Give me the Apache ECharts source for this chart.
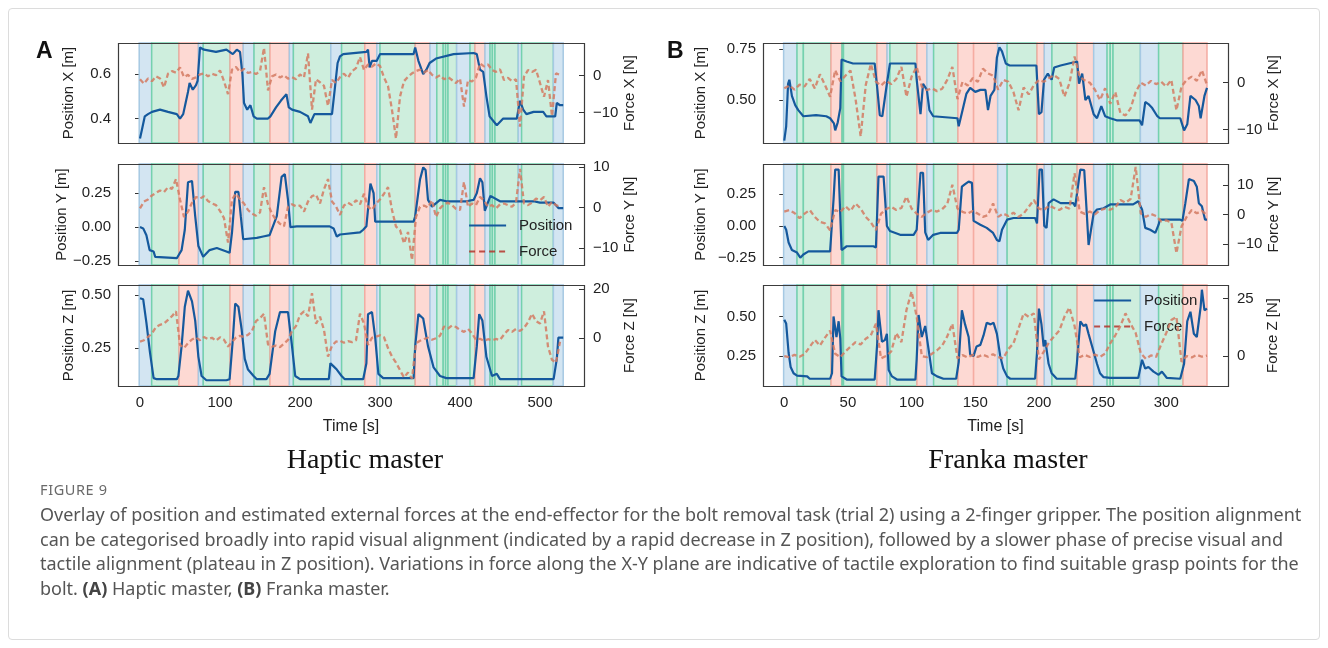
<!DOCTYPE html>
<html>
<head>
<meta charset="utf-8">
<script src="https://cdn.jsdelivr.net/npm/echarts@6.0.0/dist/echarts.min.js"></script>
<style>
body { margin: 0; background: #fff; }
#frame { position: absolute; left: 8px; top: 8px; width: 1310px; height: 630px; border: 1px solid #dcdcdc; border-radius: 4px; }
#chart { position: absolute; left: 0; top: 0; width: 1328px; height: 480px; }
#cap { position: absolute; left: 40px; top: 478px; width: 1285px; font-family: "Noto Sans", "Open Sans", sans-serif; color: #555; }
#cap .fig { font-size: 14.5px; letter-spacing: 0.6px; color: #6a6a6a; line-height: 22px; }
#cap .txt { font-size: 18px; line-height: 24.5px; margin-top: 2px; white-space: nowrap; }
#cap b { color: #444; }
</style>
</head>
<body>
<div id="frame"></div>
<div id="chart"></div>
<div id="cap">
  <div class="fig">FIGURE 9</div>
  <div class="txt">Overlay of position and estimated external forces at the end-effector for the bolt removal task (trial 2) using a 2-finger gripper. The position alignment<br>can be categorised broadly into rapid visual alignment (indicated by a rapid decrease in Z position), followed by a slower phase of precise visual and<br>tactile alignment (plateau in Z position). Variations in force along the X-Y plane are indicative of tactile exploration to find suitable grasp points for the<br>bolt. <b>(A)</b> Haptic master, <b>(B)</b> Franka master.</div>
</div>
<script>
// ---- data: phase bands [start, end, type]  b=blue g=green r=red
var bandsA = [[-1,14.6,'b'],[14.6,48.7,'g'],[48.7,73,'r'],[73,79,'b'],[79,112.5,'g'],[112.5,129,'r'],
  [129,142.5,'b'],[142.5,162.5,'g'],[162.5,186.7,'r'],[186.7,191.7,'b'],[191.7,238.5,'g'],[238.5,252,'b'],
  [252,281,'g'],[281,296,'r'],[296,300,'b'],[300,344,'g'],[344,362.5,'r'],[362.5,371,'b'],[371,379,'g'],
  [379,382,'g'],[382,385,'g'],[385,395.8,'g'],[395.8,412.5,'b'],[412.5,418.7,'g'],[418.7,431.2,'r'],
  [431.2,437.5,'b'],[437.5,440.5,'g'],[440.5,443.7,'g'],[443.7,472.9,'g'],[472.9,477,'b'],[477,516.7,'g'],[516.7,529,'b']];
var bandsB = [[-0.5,10,'b'],[10,15,'g'],[15,36.7,'g'],[36.7,45.3,'r'],[45.3,46.5,'g'],[46.5,72.8,'g'],[72.8,80.7,'r'],
  [80.7,83,'b'],[83,104.2,'g'],[104.2,112,'r'],[112,117.3,'b'],[117.3,136.4,'g'],[136.4,148.7,'r'],[148.7,167.6,'r'],
  [167.6,175,'b'],[175,198.5,'g'],[198.5,204.2,'r'],[204.2,210.2,'b'],[210.2,230,'g'],[230,243,'r'],[243,253.5,'b'],
  [253.5,256,'g'],[256,258.2,'g'],[258.2,279.7,'g'],[279.7,294,'b'],[294,313.2,'g'],[313.2,332,'r']];

// ---- Haptic master: position [t, m]
var posXA = [[0,0.31],[3,0.36],[6,0.41],[10,0.42],[15,0.43],[25,0.44],[35,0.43],[46,0.42],[50,0.40],[54,0.42],[57,0.47],
  [60,0.52],[62,0.56],[66,0.53],[70,0.55],[72,0.57],[75,0.72],[80,0.71],[95,0.70],[108,0.71],[112,0.70],[116,0.69],
  [121,0.71],[125,0.70],[128,0.60],[130,0.47],[134,0.44],[138,0.46],[142,0.41],[146,0.40],[160,0.40],[163,0.41],
  [170,0.45],[176,0.48],[183,0.51],[186,0.45],[190,0.44],[200,0.43],[210,0.41],[213,0.38],[218,0.42],[240,0.42],
  [244,0.55],[247,0.65],[250,0.68],[254,0.69],[283,0.70],[285,0.71],[287,0.63],[290,0.66],[296,0.66],[300,0.69],
  [342,0.69],[344,0.72],[348,0.66],[354,0.60],[358,0.62],[362,0.65],[370,0.67],[392,0.69],[417,0.695],[421,0.69],
  [425,0.62],[429,0.61],[433,0.50],[437,0.41],[446,0.37],[454,0.40],[471,0.40],[475,0.48],[479,0.44],[483,0.42],
  [492,0.43],[504,0.43],[508,0.41],[519,0.41],[521,0.47],[525,0.46],[529,0.46]];
var posYA = [[0,0.0],[4,-0.01],[8,-0.06],[12,-0.17],[17,-0.18],[19,-0.22],[21,-0.23],[46,-0.23],[48,-0.22],[52,-0.17],
  [56,-0.02],[60,0.33],[65,0.34],[69,0.08],[73,-0.14],[79,-0.22],[87,-0.17],[96,-0.155],[108,-0.18],[112,-0.19],
  [115,-0.04],[119,0.26],[123,0.26],[126,0.08],[129,-0.09],[146,-0.08],[154,-0.07],[162,-0.06],[171,0.08],[177,0.37],
  [181,0.39],[185,0.2],[188,0.0],[196,0.005],[237,0.005],[242,-0.01],[246,-0.07],[250,-0.055],[275,-0.04],[279,-0.02],
  [283,0.005],[288,0.32],[292,0.25],[294,0.04],[300,0.04],[342,0.04],[344,0.08],[350,0.35],[354,0.44],[357,0.42],
  [360,0.2],[365,0.15],[375,0.2],[383,0.19],[408,0.19],[417,0.2],[421,0.25],[425,0.36],[428,0.33],[431,0.12],
  [438,0.23],[450,0.19],[492,0.19],[500,0.18],[517,0.18],[523,0.14],[529,0.14]];
var posZA = [[0,0.485],[4,0.48],[8,0.37],[12.5,0.23],[17,0.11],[21,0.105],[46,0.105],[48,0.12],[52,0.26],[56,0.445],
  [60,0.52],[65,0.47],[69,0.38],[73,0.21],[77,0.12],[83,0.10],[108,0.10],[112,0.105],[116,0.29],[119,0.46],[123,0.445],
  [127,0.34],[131,0.20],[135,0.15],[142,0.12],[146,0.105],[158,0.105],[162,0.13],[169,0.33],[175,0.42],[185,0.42],
  [190,0.26],[194,0.12],[200,0.105],[236,0.105],[238,0.18],[242,0.165],[246,0.15],[252,0.12],[256,0.105],[279,0.105],
  [283,0.18],[285,0.41],[290,0.42],[294,0.30],[298,0.13],[304,0.11],[342,0.11],[344,0.26],[348,0.41],[354,0.39],
  [360,0.26],[367,0.16],[375,0.12],[383,0.11],[417,0.11],[421,0.26],[424,0.41],[428,0.38],[433,0.21],[440,0.12],
  [446,0.13],[450,0.105],[517,0.105],[521,0.2],[523,0.30],[529,0.30]];
// force [N], one value every forceStepA seconds from t = 0
var forceStepA = 5;
var forceXA = [-1.0,-2.2,-0.8,-1.5,-0.2,-0.8,-3.2,0.5,1.2,0.8, 2.2,-0.4,0.2,-0.9,-0.5,0.3,0.6,-0.2,0.5,0.1,
  1.4,-1.5,-5.0,1.6,2.3,1.0,1.8,0.7,1.0,0.4, 1.2,7.5,-4.0,-0.2,0.3,-0.5,0.1,-0.8,-0.4,-1.0,
  0.3,-0.5,6.0,-9.2,-1.0,-1.8,-2.8,-8.2,-1.2,-2.0, -0.4,0.5,-0.6,1.2,2.0,5.0,1.5,3.0,2.4,3.3,
  2.6,-0.5,-2.8,-9.3,-17.0,-5.7,-1.5,-0.3,0.6,1.2, 1.6,0.8,1.5,0.2,-0.5,0.1,-1.0,-0.4,-1.2,-2.0,
  -0.8,-8.4,-1.2,-1.6,-0.5,3.3,2.5,3.0,1.5,1.0, 1.7,-1.2,-0.6,-1.5,-1.0,-13.8,-0.3,1.5,1.0,1.6,
  -2.0,-5.7,-1.2,-11.0,0.6,0.2];
var forceYA = [-0.2,1.5,2.0,3.0,3.6,4.2,3.8,5.0,4.6,7.0, 2.0,-2.3,-1.0,1.2,2.6,2.2,2.8,1.6,1.0,0.6,
  -0.8,-2.6,-8.6,2.0,3.4,2.0,1.0,-0.6,-1.5,-2.0, -1.2,5.0,0.8,-1.5,-3.0,-4.0,-4.6,0.2,0.8,0.3,
  0.5,-1.0,1.5,2.8,3.2,1.0,4.5,7.0,1.5,0.3, -1.8,0.5,1.2,0.6,1.8,0.8,3.4,0.2,-0.6,1.0,
  2.0,3.4,5.0,-0.6,-4.7,-5.5,-8.8,-6.0,-12.9,-2.3, 0.2,0.5,0.0,1.8,-2.3,-0.2,0.8,1.2,0.6,-0.3,
  -0.6,6.3,0.2,1.0,0.6,2.6,1.8,0.2,0.6,-0.2, 0.8,1.0,0.6,0.2,1.2,9.5,1.0,0.6,1.2,2.2,
  1.8,2.6,0.2,1.4,0.6,0.2];
var forceZA = [-1.4,-0.8,0.6,2.0,4.6,5.5,6.0,7.5,9.0,11.0, -2.7,-4.0,-2.0,-0.5,0.3,-0.8,0.5,-0.3,0.2,-1.0,
  0.4,-0.6,-3.4,-1.5,0.3,1.0,0.5,1.4,3.0,7.0, 8.2,10.0,-2.5,-3.4,-3.0,-3.6,-2.2,-0.7,3.0,5.0,
  9.5,11.0,9.0,18.4,6.0,8.8,3.4,-7.5,-3.0,-1.4, -1.0,-1.8,-1.2,-1.6,-0.8,10.0,6.0,-2.7,0.2,0.7,
  1.2,0.4,-4.0,-7.5,-10.0,-13.0,-16.0,-14.0,-16.5,-2.0, -1.0,-0.3,0.2,-0.6,0.0,1.0,4.8,4.0,5.2,4.6,
  3.4,2.6,3.8,2.0,-0.7,-0.2,-1.0,-0.4,-0.8,-0.3, -0.7,1.5,3.4,2.6,3.8,3.0,4.2,6.5,10.0,7.0,
  6.0,11.0,-3.4,-8.8,-10.0,-1.4];

// ---- Franka master
var posXB = [[0,0.30],[1.5,0.37],[3,0.58],[4,0.60],[6,0.52],[8.6,0.475],[11,0.45],[15,0.42],[25,0.425],[33,0.42],
  [36,0.41],[39,0.385],[40,0.35],[42,0.39],[44,0.46],[45,0.70],[49,0.69],[54,0.68],[71,0.68],[73,0.56],[75,0.425],
  [77,0.42],[80.6,0.58],[83,0.68],[103,0.68],[104,0.60],[107,0.43],[109,0.58],[112,0.55],[114,0.45],[117,0.42],
  [136,0.41],[137,0.37],[140,0.45],[143,0.53],[146,0.56],[150,0.54],[154,0.55],[158,0.55],[160,0.45],[162,0.52],
  [165,0.55],[167,0.71],[169,0.76],[171,0.74],[174,0.68],[177,0.67],[198,0.67],[200,0.43],[202,0.44],[204,0.60],
  [207,0.63],[210,0.60],[212,0.66],[217,0.67],[230,0.69],[231.5,0.58],[234,0.63],[236.5,0.50],[239,0.52],[243,0.43],
  [245.6,0.41],[249,0.47],[252,0.42],[256,0.41],[261,0.40],[279,0.40],[281,0.375],[283.5,0.49],[286,0.48],[289,0.46],
  [293,0.42],[295,0.41],[311,0.41],[314,0.35],[316.5,0.38],[319,0.52],[323,0.50],[325.6,0.47],[327,0.41],[330,0.52],[332,0.56]];
var posYB = [[0,0.0],[1.5,-0.03],[3.4,-0.13],[6,-0.19],[10,-0.21],[12.6,-0.25],[15,-0.225],[19,-0.2],[36,-0.2],
  [37.5,-0.19],[38.7,0.21],[40,0.445],[42.7,0.445],[44,0.08],[45,-0.19],[49,-0.16],[70,-0.16],[72,-0.17],[74,0.39],
  [78,0.39],[80.6,0.0],[83,-0.04],[91,-0.07],[101.6,-0.07],[104,-0.03],[107,0.42],[109,0.42],[110.7,-0.05],[113,-0.11],
  [117,-0.07],[122.5,-0.055],[135.6,-0.055],[137,-0.03],[139.5,0.31],[142,0.33],[144.8,0.35],[147.4,0.34],[148.7,0.04],
  [154,0.01],[159,-0.015],[164,-0.055],[167,-0.11],[169,-0.12],[171,-0.03],[175,0.05],[180,0.063],[197,0.063],
  [198.5,0.02],[200.5,0.445],[202.4,0.445],[204.2,0.0],[206,-0.015],[207.6,0.18],[211.5,0.21],[217,0.18],[227,0.18],
  [228.5,0.155],[232.5,0.445],[235.6,0.44],[237.7,0.08],[239,-0.15],[240.5,-0.135],[243,0.1],[245.6,0.13],[250.8,0.14],
  [256,0.17],[274,0.17],[278,0.195],[281,0.13],[283.5,-0.015],[287.4,-0.03],[291.4,-0.055],[294,0.01],[295,0.05],
  [311,0.05],[312.7,0.04],[315,0.18],[317.8,0.37],[321.7,0.355],[324,0.31],[325.6,0.18],[328,0.155],[330.5,0.05],[332,0.05]];
var posZB = [[0,0.48],[1.5,0.455],[3.4,0.27],[5,0.18],[7.3,0.14],[10,0.125],[18,0.12],[20,0.105],[36,0.105],
  [37.5,0.14],[38.7,0.50],[41,0.37],[42.7,0.47],[44,0.36],[45,0.12],[49,0.10],[71,0.10],[73,0.33],[74,0.54],
  [76.7,0.34],[79,0.35],[80.6,0.39],[82,0.16],[84.6,0.12],[88.5,0.10],[103,0.10],[104,0.23],[105.5,0.51],[108,0.37],
  [110.7,0.44],[113,0.31],[116,0.14],[120,0.12],[125,0.105],[135,0.105],[137,0.21],[139.5,0.54],[142,0.45],[144.8,0.37],
  [146,0.26],[148.7,0.25],[151,0.31],[154,0.32],[156.5,0.38],[159,0.46],[162,0.45],[164.4,0.46],[167,0.39],
  [169.6,0.25],[172,0.17],[175,0.12],[177.5,0.105],[197,0.105],[198.5,0.27],[200,0.55],[202,0.45],[203.7,0.31],
  [205,0.35],[207.6,0.20],[210,0.14],[214,0.105],[228.5,0.105],[229.8,0.20],[232.5,0.47],[235,0.44],[237,0.45],
  [239,0.39],[241.8,0.31],[245.6,0.20],[248,0.14],[250.8,0.115],[256,0.11],[278,0.11],[281,0.225],[283.5,0.17],
  [286,0.18],[290,0.15],[294,0.13],[296.6,0.15],[300.5,0.11],[311,0.105],[314,0.20],[316.5,0.47],[319,0.53],
  [321.7,0.39],[324,0.37],[327,0.56],[328,0.67],[330,0.54],[332,0.55]];
var forceStepB = 4;
var forceXB = [-1.2,-0.6,-1.5,-0.4,-0.8,0.8,-1.2,1.8,-0.5,-3.0, 2.7,0.3,1.5,2.6,-3.5,-11.5,-0.5,4.0,0.2,-0.6,
  0.4,-0.3,0.8,3.4,-3.0,1.3,3.4,-0.8,-1.6,-1.2, -1.8,-1.3,0.6,3.4,-3.5,0.2,-0.6,1.0,0.2,3.0,
  2.0,1.5,-1.5,0.6,0.2,-2.0,-5.9,-1.0,-2.5,-0.5, 0.6,0.2,1.0,1.6,0.8,-3.0,-0.1,5.6,1.3,0.5,
  0.0,-1.5,-3.7,-1.2,-4.5,-2.0,-6.5,-7.0,-5.5,-2.0, 0.0,-0.6,0.4,-0.3,0.2,-0.8,0.6,-5.9,-0.8,0.6,
  1.3,0.4,2.7,-0.5];
var forceYB = [1.0,1.5,0.5,-1.2,0.3,1.5,-0.8,-2.5,-3.0,-5.3, 1.5,0.8,2.8,1.2,3.7,2.0,-0.8,-2.6,-5.3,0.3,
  1.8,2.6,1.5,2.2,6.0,2.0,0.3,-0.8,0.6,1.5, 1.0,1.8,3.5,10.0,2.0,0.9,0.3,1.2,0.3,-0.8,
  -0.2,3.7,-0.8,0.3,-0.5,0.6,-0.8,0.3,2.6,4.9, 2.0,1.5,3.0,2.2,1.5,2.6,2.0,13.9,1.0,0.2,
  1.0,0.0,1.5,2.0,1.6,2.4,4.9,4.0,5.2,16.0, 0.3,-0.8,0.2,-0.5,-2.3,-2.0,-2.6,-13.0,-4.0,-0.8,
  1.5,0.4,1.2,-0.2];
var forceZB = [0.0,-0.5,0.5,-0.3,0.8,4.0,7.0,4.5,8.0,11.0, 1.0,-0.5,2.0,4.0,6.0,5.0,7.5,9.0,14.0,-1.0,
  0.0,2.0,10.0,6.0,20.0,28.0,17.0,0.0,-0.5,1.0, 2.5,4.5,8.5,14.0,-1.0,0.4,-0.6,0.5,-0.4,0.6,
  -0.3,0.8,-0.5,-1.0,3.0,5.5,12.0,18.5,17.0,18.5, -1.5,2.0,6.0,8.5,11.0,17.0,21.0,13.0,-0.5,0.5,
  -0.4,0.6,-0.3,1.0,5.5,9.0,13.0,18.5,14.0,10.0, 1.2,-1.2,0.3,-0.4,5.0,10.0,15.6,17.0,-2.5,0.0,
  -0.6,0.5,-0.3,0.2];

// ---- tick labels
var timeTicksA = [0, 100, 200, 300, 400, 500];
var timeTicksB = [0, 50, 100, 150, 200, 250, 300];
var posTicksA = [[0.4, 0.6], [-0.25, 0, 0.25], [0.25, 0.5]];
var forceTicksA = [[-10, 0], [-10, 0, 10], [0, 20]];
var posTicksB = [[0.5, 0.75], [-0.25, 0, 0.25], [0.25, 0.5]];
var forceTicksB = [[-10, 0], [-10, 0, 10], [0, 25]];

var font = '"Liberation Sans", Arial, sans-serif';
var blue = '#15599d', salmon = '#d47a62';
var bandStyle = {
    b: { color: '#d3e5f2', borderColor: '#a6c9e3', borderWidth: 1.5 },
    g: { color: '#ceeedd', borderColor: '#74d1ae', borderWidth: 1.5 },
    r: { color: '#fdd9d3', borderColor: '#f5aca2', borderWidth: 1.5 }
};

var panels = [
    { left: 118, width: 466, xr: [-27.5, 555], xt: timeTicksA, bands: bandsA,
      pos: [posXA, posYA, posZA], force: [forceXA, forceYA, forceZA], step: forceStepA,
      lr: [[0.29, 0.74], [-0.28, 0.465], [0.073, 0.547]], lt: posTicksA, ld: [1, 2, 2],
      rr: [[-18.2, 8.8], [-14.1, 10.7], [-19.5, 21.75]], rt: forceTicksA, lgap: 42, rgap: 38 },
    { left: 763, width: 465, xr: [-16.7, 348.5], xt: timeTicksB, bands: bandsB,
      pos: [posXB, posYB, posZB], force: [forceXB, forceYB, forceZB], step: forceStepB,
      lr: [[0.288, 0.781], [-0.308, 0.489], [0.059, 0.70]], lt: posTicksB, ld: [2, 2, 2],
      rr: [[-12.9, 8.5], [-17, 17], [-13, 30.8]], rt: forceTicksB, lgap: 55, rgap: 37 }
];
var tops = [43, 164, 285], heights = [100, 101, 101];
var axisNames = ['X', 'Y', 'Z'];

function minus(s) { return String(s).replace('-', '\u2212'); }

var grids = [], xAxes = [], yAxes = [], series = [], graphics = [];
panels.forEach(function(p, pi) {
    for (var k = 0; k < 3; k++) {
        var gi = pi * 3 + k;
        var last = k === 2;
        grids.push({ left: p.left, top: tops[k], width: p.width, height: heights[k], show: false });
        xAxes.push({
            type: 'value', gridIndex: gi, min: p.xr[0], max: p.xr[1],
            axisLine: { show: false }, splitLine: { show: false },
            axisTick: { inside: true, length: 5, lineStyle: { color: '#333' }, customValues: p.xt },
            axisLabel: { show: last, customValues: p.xt, color: '#222', fontSize: 15, margin: 9, fontFamily: font },
            name: last ? 'Time [s]' : '', nameLocation: 'middle', nameGap: 33,
            nameTextStyle: { color: '#222', fontSize: 16, fontFamily: font }
        });
        (function(dec) {
            yAxes.push({
                type: 'value', gridIndex: gi, position: 'left', min: p.lr[k][0], max: p.lr[k][1],
                axisLine: { show: false }, splitLine: { show: false },
                axisTick: { inside: false, length: 5, lineStyle: { color: '#333' }, customValues: p.lt[k] },
                axisLabel: { customValues: p.lt[k], color: '#222', fontSize: 15, margin: 7, fontFamily: font,
                    formatter: function(v) { return minus(v.toFixed(dec)); } },
                name: 'Position ' + axisNames[k] + ' [m]', nameLocation: 'middle', nameRotate: 90, nameGap: p.lgap,
                nameTextStyle: { color: '#222', fontSize: 15, fontFamily: font }
            });
        })(p.ld[k]);
        yAxes.push({
            type: 'value', gridIndex: gi, position: 'right', min: p.rr[k][0], max: p.rr[k][1],
            axisLine: { show: false }, splitLine: { show: false },
            axisTick: { inside: true, length: 5, lineStyle: { color: '#333' }, customValues: p.rt[k] },
            axisLabel: { customValues: p.rt[k], color: '#222', fontSize: 15, margin: 9, fontFamily: font,
                formatter: function(v) { return minus(v); } },
            name: 'Force ' + axisNames[k] + ' [N]', nameLocation: 'middle', nameRotate: 90, nameGap: p.rgap,
            nameTextStyle: { color: '#222', fontSize: 15, fontFamily: font }
        });
        series.push({
            type: 'line', name: 'Position', xAxisIndex: gi, yAxisIndex: 2 * gi, data: p.pos[k],
            symbol: 'none', z: 3, lineStyle: { color: blue, width: 2.2 }, itemStyle: { color: blue },
            markArea: {
                silent: true, label: { show: false },
                data: p.bands.map(function(b) { return [{ xAxis: b[0], itemStyle: bandStyle[b[2]] }, { xAxis: b[1] }]; })
            }
        });
        series.push({
            type: 'line', name: 'Force', xAxisIndex: gi, yAxisIndex: 2 * gi + 1,
            data: p.force[k].map(function(v, i) { return [i * p.step, v]; }),
            symbol: 'none', z: 4, lineStyle: { color: salmon, width: 2.3, type: [5, 3], opacity: 0.85 },
            itemStyle: { color: salmon }
        });
        graphics.push({ type: 'rect', z: 100, silent: true,
            shape: { x: p.left + 0.5, y: tops[k] + 0.5, width: p.width, height: heights[k] },
            style: { fill: null, stroke: '#3c3c3c', lineWidth: 1.2 } });
    }
});

graphics.push({ type: 'text', x: 36, y: 40, style: { text: 'A', font: 'bold 23px ' + font, fill: '#111' } });
graphics.push({ type: 'text', x: 667, y: 40, style: { text: 'B', font: 'bold 23px ' + font, fill: '#111' } });
graphics.push({ type: 'text', x: 365, y: 461, style: { text: 'Haptic master', font: '28px "Liberation Serif", serif', fill: '#111', align: 'center', verticalAlign: 'middle' } });
graphics.push({ type: 'text', x: 1008, y: 461, style: { text: 'Franka master', font: '28px "Liberation Serif", serif', fill: '#111', align: 'center', verticalAlign: 'middle' } });

function legendAt(left, top) {
    return {
        left: left, top: top, orient: 'vertical', itemWidth: 37, itemHeight: 14, itemGap: 11,
        textStyle: { fontSize: 15, color: '#222', fontFamily: font, padding: [0, 0, 0, 8] },
        data: [
            { name: 'Position', lineStyle: { color: blue, width: 2.2 }, itemStyle: { opacity: 0 } },
            { name: 'Force', lineStyle: { color: '#b5332a', width: 2, type: [6, 4] }, itemStyle: { opacity: 0 } }
        ]
    };
}

var chart = echarts.init(document.getElementById('chart'));
chart.setOption({
    animation: false,
    backgroundColor: 'transparent',
    grid: grids,
    xAxis: xAxes,
    yAxis: yAxes,
    legend: [legendAt(463, 213), legendAt(1088, 288)],
    graphic: graphics,
    series: series
});
</script>
</body>
</html>
